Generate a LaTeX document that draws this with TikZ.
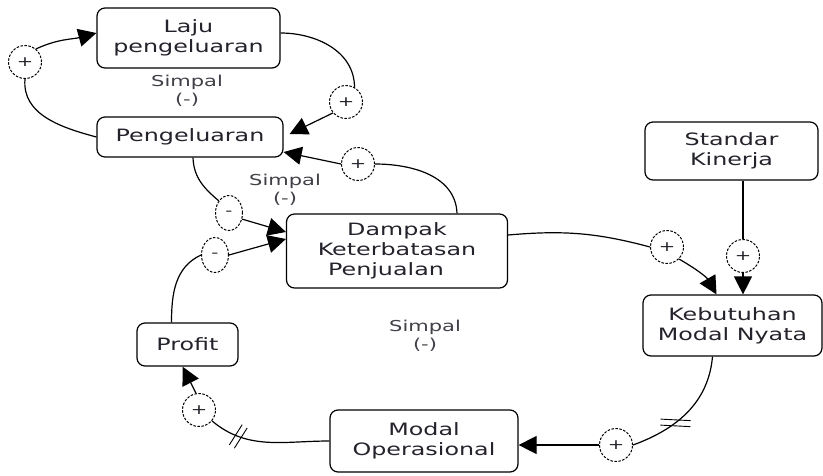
\documentclass[tikz,border=0pt]{standalone}
\usepackage{fontspec}
\setmainfont{DejaVu Sans}[FakeStretch=1.4]
\usetikzlibrary{arrows.meta,shapes.geometric,decorations.markings,calc}
\definecolor{txt}{HTML}{26222C}
\definecolor{lbltxt}{HTML}{404048}
\begin{document}
\begin{tikzpicture}[x=1pt,y=1pt,
  box/.style={draw, rounded corners=8pt, line width=1.2pt, align=center, inner sep=0pt, text=txt, font=\fontsize{17}{20}\selectfont},
  pol/.style={draw, ellipse, dash pattern=on 2.5pt off 1.5pt, line width=1pt, inner sep=0pt, text=txt, font=\fontsize{14}{14}\selectfont, minimum width=33pt, minimum height=33pt},
  neg/.style={pol, minimum width=27pt, minimum height=35pt},
  link/.style={line width=1.2pt},
  arr/.style={link, -{Triangle[length=18pt,width=18pt]}},
  lbl/.style={align=center, text=lbltxt, font=\fontsize{15}{18}\selectfont},
  delay/.style n args={3}{postaction={decorate, decoration={markings, mark=at position #1 with {\draw[line width=0.9pt, rotate=#2] (-3pt,-#3) -- (-3pt,#3) (3pt,-#3) -- (3pt,#3);}}}}
]
\fill[white] (0,0) rectangle (823,-475);
\useasboundingbox (0,0) rectangle (823,-475);

% boxes
\node[box, minimum width=183pt, minimum height=60pt] (laju) at (188.5,-38) {Laju\\pengeluaran};
\node[box, minimum width=186pt, minimum height=40pt] (peng) at (190,-137) {Pengeluaran};
\node[box, minimum width=221pt, minimum height=74pt] (dampak) at (397,-251) {Dampak\\Keterbatasan\\Penjualan\hspace*{22pt}};
\node[box, minimum width=173pt, minimum height=58pt] (std) at (731.5,-151) {Standar\\Kinerja};
\node[box, minimum width=179pt, minimum height=61pt] (keb) at (732.5,-325.5) {Kebutuhan\\Modal Nyata};
\node[box, minimum width=101pt, minimum height=43pt] (profit) at (187.5,-344.5) {Profit};
\node[box, minimum width=188pt, minimum height=62pt] (modal) at (424,-441) {Modal\\Operasional};

% polarity marks
\node[pol] (c1) at (25,-62) {+};
\node[pol] (c2) at (346,-102) {+};
\node[pol] (c3) at (358,-164) {+};
\node[neg] (c4) at (229,-213) {-};
\node[neg] (c5) at (215,-255) {-};
\node[pol] (c6) at (667,-247) {+};
\node[pol] (c7) at (743,-256) {+};
\node[pol] (c8) at (616,-445) {+};
\node[pol] (c9) at (199,-410) {+};

% loop labels
\node[lbl] (s1) at (187,-91) {Simpal\\(-)};
\node[lbl] (s2) at (285,-190) {Simpal\\(-)};
\node[lbl] (s3) at (425,-336) {Simpal\\(-)};

% connectors
\draw[link] (peng.west) to[out=165,in=-95] (c1.south);
\draw[arr] (c1.50) to[out=25,in=195] ([yshift=5pt]laju.west);

\draw[link] ([yshift=5pt]laju.east) to[out=0,in=90] (c2.60);
\draw[arr] (c2.220) -- ([yshift=3pt,xshift=6pt]peng.east);

\draw[link] ([xshift=60pt]dampak.north) to[out=92,in=0] (c3.east);
\draw[arr] (c3.west) -- ([yshift=-15pt]peng.east);

\draw[link] ([xshift=3pt]peng.south) to[out=-88,in=140] (c4.130);
\draw[arr] (c4.-25) -- ([yshift=19pt]dampak.west);

\draw[link] ([xshift=-16pt]profit.north) to[out=90,in=205] (c5.west);
\draw[arr] (c5.east) -- ([yshift=12pt]dampak.west);

\draw[link] ([yshift=16pt]dampak.east) to[out=5,in=165] (c6.west);
\draw[arr] (c6.-45) to[out=-30,in=120] ([xshift=-16pt]keb.north);

\draw[link] (c7.north |- std.south) -- (c7.north);
\draw[arr] (c7.south) -- (c7.south |- keb.north);

\draw[link, delay={0.62}{50}{15pt}] ([xshift=-20pt]keb.south) to[out=-95,in=20] (c8.east);
\draw[arr] (c8.west) -- (c8.west -| modal.east);

\draw[link, delay={0.75}{-12}{12pt}] (modal.west) to[out=180,in=-40] (c9.-40);
\draw[arr] (c9.100) -- ([xshift=-5pt]profit.south);
\end{tikzpicture}
\end{document}
